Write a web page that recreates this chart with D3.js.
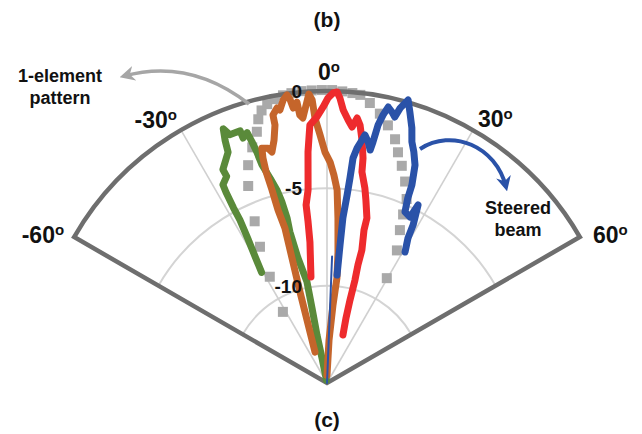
<!doctype html>
<html>
<head>
<meta charset="utf-8">
<script src="https://cdnjs.cloudflare.com/ajax/libs/d3/7.8.5/d3.min.js"></script>
<style>
  body { margin: 0; background: #fff; }
  text { font-family: "Liberation Sans", Arial, sans-serif; font-weight: bold; fill: #111; }
</style>
</head>
<body>
<svg id="chart" width="642" height="434"></svg>
<script>
// angles in degrees, values in dB
var angleTicks = [-60, -30, 0, 30, 60];
var ringTicks = [-10, -5];
var radialLabels = [0, -5, -10];

var elementAngles = [-31.8, -28.3, -26.2, -24.1, -21.8, -19.9, -17.6, -15.6, -14.6, -13.5, -12.1, -10.5, -8.7, -7, -5, -3, -1, 1, 3, 5, 6.6, 8.7, 11.1, 13.3, 15.6, 17.1, 19.0, 21.2, 23.4, 24.3, 25.5, 27.8, 29.7];
var elementDb = [-10.7, -8.8, -7.2, -5.9, -4.1, -3.1, -2.3, -1.6, -1.0, -0.6, -0.35, -0.17, -0.05, 0, 0.05, 0.05, 0.05, 0.05, 0, -0.05, -0.1, -0.45, -0.9, -1.4, -2.0, -2.6, -3.2, -3.9, -4.7, -5.5, -6.3, -7.3, -8.8];

var greenAngles = [-30.6, -29.7, -28.7, -28.1, -28.1, -27.9, -27.7, -25.9, -26.0, -23.2, -22.8, -22.2, -21.4, -20.2, -19.0, -18.9, -17.7, -17.3, -16.9, -16.6, -15.5, -14.5, -14.0, -13.6, -13.8, -13.1, -11.2, -11.3, -11.8, -11.3, -10];
var greenDb = [-8.4, -7.6, -6.5, -5.5, -4.8, -3.9, -3.5, -3.2, -2.8, -2.1, -1.5, -0.9, -1.3, -1.3, -1.3, -1.7, -1.5, -2.0, -2.6, -3.3, -4.1, -4.8, -5.4, -6.3, -7.0, -8.4, -9.7, -11.1, -12.5, -13.7, -14.85];

var orangeAngles = [-21.2, -16.5, -15.2, -15.8, -15.9, -16.1, -15.9, -15.5, -14.1, -13.4, -12.3, -11.4, -11.4, -10.3, -9.8, -8.8, -7.9, -7.4, -7.0, -6.1, -5.8, -5.2, -4.3, -3.6, -3.0, -2.6, -1.6, -0.5, 0.8, 1.9, 3.0, 3.8, 4.8, 5.4, 4.4, 2.7, 0];
var orangeDb = [-13.3, -10.1, -6.75, -5.76, -4.69, -3.72, -2.99, -2.48, -2.56, -2.8, -2.23, -1.48, -0.96, -0.64, -0.77, -0.29, -0.06, -0.34, -0.77, -0.49, -1.16, -1.33, -0.68, -0.13, -0.44, -1.37, -2.26, -3.14, -3.65, -4.31, -5.07, -6.51, -8.25, -9.58, -10.98, -12.79, -14.6];

var redAngles = [-8.6, -6.9, -6.7, -6.7, -5.6, -4.7, -3.8, -2.2, -0.8, 0.2, 1.2, 2.0, 2.6, 3.4, 4.6, 5.6, 6.5, 7.3, 8.2, 9.1, 9.4, 11.0, 12.0, 13.6, 13.6, 14.7, 14.7, 15.2, 15.5, 16.3, 18.4];
var redDb = [-9.49, -7.71, -6.67, -5.79, -5.04, -3.09, -1.72, -1.33, -0.82, -0.36, -0.1, -0.04, -0.35, -0.95, -1.45, -1.79, -1.3, -1.64, -2.39, -3.3, -4.01, -4.8, -5.39, -6.28, -6.92, -7.94, -8.73, -9.52, -10.58, -11.52, -12.4];

var blueAngles = [5.3, 5.4, 5.5, 6.1, 6.4, 6.6, 7.3, 8.2, 8.7, 9.7, 10.5, 10.8, 11.2, 11.8, 12.5, 13.5, 14.3, 14.9, 15.6, 16.0, 17.0, 18.4, 19.4, 20.6, 22.0, 23.2, 23.6, 24.5, 26.6, 27.1, 28.6, 29.2, 30.8];
var blueDb = [-9.43, -7.88, -6.48, -5.29, -4.4, -3.37, -2.83, -2.39, -2.11, -2.44, -2.83, -2.4, -1.49, -0.94, -0.48, -0.69, -0.9, -0.39, -0.07, 0.12, -0.44, -1.19, -1.87, -2.32, -2.93, -3.93, -4.63, -5.34, -5.47, -4.73, -5.76, -6.47, -7.17];
var blueTailAngles = [0, 2.3];
var blueTailDb = [-15, -8.5];

var svg = d3.select("#chart"),
    cx = 327, cy = 383, R = 292;

var aScale = d3.scaleLinear().domain([-180, 180]).range([-Math.PI, Math.PI]);
var rScale = d3.scaleLinear().domain([-15, 0]).range([0, R]);

function pts(angles, vals) {
    return angles.map(function(a, i) { return [a, vals[i]]; });
}
function xy(a, v) {
    var t = aScale(a), r = rScale(v);
    return [r * Math.sin(t), -r * Math.cos(t)];
}

var defs = svg.append("defs");
function marker(id, color) {
    defs.append("marker")
        .attr("id", id)
        .attr("viewBox", "0 0 10 10")
        .attr("refX", 7).attr("refY", 5)
        .attr("markerUnits", "userSpaceOnUse")
        .attr("markerWidth", 15).attr("markerHeight", 15)
        .attr("orient", "auto")
        .append("path").attr("d", "M0,0 L10,5 L0,10 L3,5 z").attr("fill", color);
}
marker("arrGrey", "#a6a6a6");
marker("arrBlue", "#2a52a8");

var g = svg.append("g").attr("transform", "translate(" + cx + "," + cy + ")");

// grid rings
ringTicks.forEach(function(v) {
    var p = d3.path(), r = rScale(v);
    p.arc(0, 0, r, aScale(-60) - Math.PI / 2, aScale(60) - Math.PI / 2);
    g.append("path").attr("d", p.toString())
        .attr("fill", "none").attr("stroke", "#d4d4d4").attr("stroke-width", 2);
});
// spokes
angleTicks.filter(function(a) { return Math.abs(a) < 60; }).forEach(function(a) {
    var e = xy(a, 0);
    g.append("line").attr("x1", 0).attr("y1", 0).attr("x2", e[0]).attr("y2", e[1])
        .attr("stroke", "#d0d0d0").attr("stroke-width", 1.6);
});

// one-element pattern (grey squares)
g.selectAll("rect.elem")
    .data(pts(elementAngles, elementDb))
    .enter().append("rect")
    .attr("class", "elem")
    .attr("x", function(d) { return xy(d[0], d[1])[0] - 5; })
    .attr("y", function(d) { return xy(d[0], d[1])[1] - 5; })
    .attr("width", 10).attr("height", 10)
    .attr("fill", "#a9a9a9");

// outer sector
g.append("path")
    .attr("d", d3.arc()({innerRadius: 0, outerRadius: R, startAngle: aScale(-60), endAngle: aScale(60)}))
    .attr("fill", "none").attr("stroke", "#6e6e6e").attr("stroke-width", 4.5)
    .attr("stroke-linejoin", "miter");

var radial = d3.lineRadial()
    .angle(function(d) { return aScale(d[0]); })
    .radius(function(d) { return rScale(d[1]); });

var series = [
    {a: greenAngles, v: greenDb, c: "#5a8a3a", w: 7},
    {a: orangeAngles, v: orangeDb, c: "#c5652b", w: 7},
    {a: redAngles, v: redDb, c: "#ee2b2d", w: 7},
    {a: blueTailAngles, v: blueTailDb, c: "#2a52a8", w: 2},
    {a: blueAngles, v: blueDb, c: "#2a52a8", w: 7}
];
series.forEach(function(s) {
    g.append("path")
        .datum(pts(s.a, s.v))
        .attr("d", radial)
        .attr("fill", "none")
        .attr("stroke", s.c)
        .attr("stroke-width", s.w)
        .attr("stroke-linejoin", "round")
        .attr("stroke-linecap", "round");
});

// radial labels
radialLabels.forEach(function(v) {
    g.append("text")
        .attr("x", -25).attr("y", -rScale(v))
        .attr("dy", "0.36em")
        .attr("text-anchor", "end")
        .attr("font-size", "19px")
        .text(v);
});

// angle labels
var angleOffsets = {"-60": [-10, 6, "end"], "-30": [-4, -2, "end"], "0": [2, -11, "middle"], "30": [5, -3, "start"], "60": [13, 6, "start"]};
angleTicks.forEach(function(a) {
    var e = xy(a, 0), o = angleOffsets[a];
    var t = g.append("text")
        .attr("x", e[0] + o[0]).attr("y", e[1] + o[1])
        .attr("text-anchor", o[2])
        .attr("font-size", "23px");
    t.append("tspan").text(a);
    t.append("tspan").attr("font-size", "15px").attr("dy", "-8.5").text("o");
});

// annotations
svg.append("path")
    .attr("d", "M249,104 Q190,58 124,76")
    .attr("fill", "none").attr("stroke", "#a6a6a6").attr("stroke-width", 3.5)
    .attr("marker-end", "url(#arrGrey)");
svg.append("path")
    .attr("d", "M420,149 C452,128 496,146 506,187")
    .attr("fill", "none").attr("stroke", "#2a52a8").attr("stroke-width", 4)
    .attr("marker-end", "url(#arrBlue)");

function label(x, y, lines, size) {
    var t = svg.append("text").attr("x", x).attr("y", y)
        .attr("text-anchor", "middle").attr("font-size", size);
    lines.forEach(function(s, i) {
        t.append("tspan").attr("x", x).attr("dy", i ? "1.2em" : 0).text(s);
    });
}
label(60, 82, ["1-element", "pattern"], "18px");
label(518, 214, ["Steered", "beam"], "18px");
label(327, 27, ["(b)"], "21px");
label(327, 427, ["(c)"], "21px");
</script>
</body>
</html>
